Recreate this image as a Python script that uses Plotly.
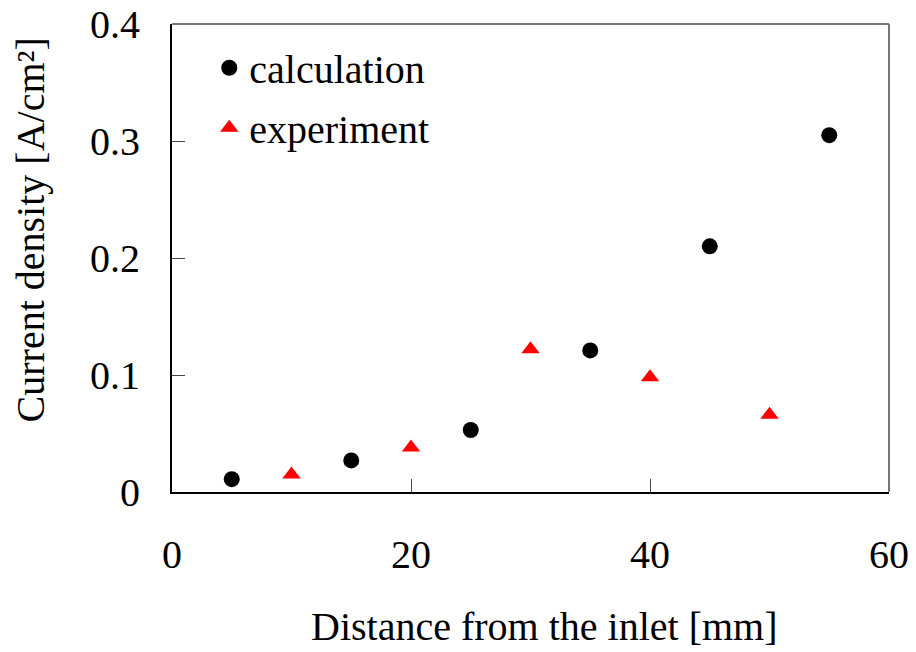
import plotly.graph_objects as go

calc_x = [5, 15, 25, 35, 45, 55]
calc_y = [0.011, 0.027, 0.053, 0.121, 0.210, 0.305]
exp_x = [10, 20, 30, 40, 50]
exp_y = [0.015, 0.038, 0.122, 0.098, 0.066]

x_ticks = [0, 20, 40, 60]
y_ticks = [0, 0.1, 0.2, 0.3, 0.4]
y_tick_text = ["0", "0.1", "0.2", "0.3", "0.4"]
x_title = "Distance from the inlet [mm]"
y_title = "Current density [A/cm²]"

font = "Liberation Serif"

fig = go.Figure()
fig.add_trace(go.Scatter(x=calc_x, y=calc_y, mode="markers", name="calculation",
                         legendgroup="a",
                         marker=dict(symbol="circle", size=16, color="black")))
fig.add_trace(go.Scatter(x=exp_x, y=exp_y, mode="markers", name="experiment",
                         legendgroup="b",
                         marker=dict(symbol="triangle-up", size=16, color="#ff0000")))

fig.update_layout(
    width=916, height=652,
    margin=dict(l=172, r=27, t=24, b=160),
    paper_bgcolor="white", plot_bgcolor="white",
    font=dict(family=font, size=40, color="black"),
    showlegend=True,
    legend=dict(x=0.052, y=0.976, xanchor="left", yanchor="top",
                font=dict(family=font, size=40, color="black"),
                bgcolor="rgba(0,0,0,0)", itemsizing="trace",
                traceorder="grouped", tracegroupgap=5),
    shapes=[
        dict(type="line", xref="paper", yref="paper", x0=0, x1=1, y0=1, y1=1,
             line=dict(color="#777777", width=2)),
        dict(type="line", xref="paper", yref="paper", x0=1, x1=1, y0=0, y1=1,
             line=dict(color="#777777", width=2)),
    ],
    annotations=[
        dict(text=x_title, xref="paper", yref="paper", x=0.52, y=-0.287,
             xanchor="center", yanchor="middle", showarrow=False,
             font=dict(family=font, size=40, color="black")),
        dict(text=y_title, xref="paper", yref="paper", x=-0.198, y=0.559,
             xanchor="center", yanchor="middle", showarrow=False, textangle=-90,
             font=dict(family=font, size=40, color="black")),
    ],
)
fig.update_xaxes(range=[0, 60], tickvals=x_ticks, ticks="inside", ticklen=13,
                 tickcolor="#444", showgrid=False, zeroline=False,
                 showline=True, linecolor="black", linewidth=2,
                 ticklabelstandoff=26, automargin=False,
                 tickfont=dict(family=font, size=40))
fig.update_yaxes(range=[0, 0.4], tickvals=y_ticks, ticktext=y_tick_text,
                 ticks="inside", ticklen=13, tickcolor="#444",
                 showgrid=False, zeroline=False,
                 showline=True, linecolor="black", linewidth=2,
                 ticklabelstandoff=22, automargin=False,
                 tickfont=dict(family=font, size=40))

fig.write_html("out.html")
